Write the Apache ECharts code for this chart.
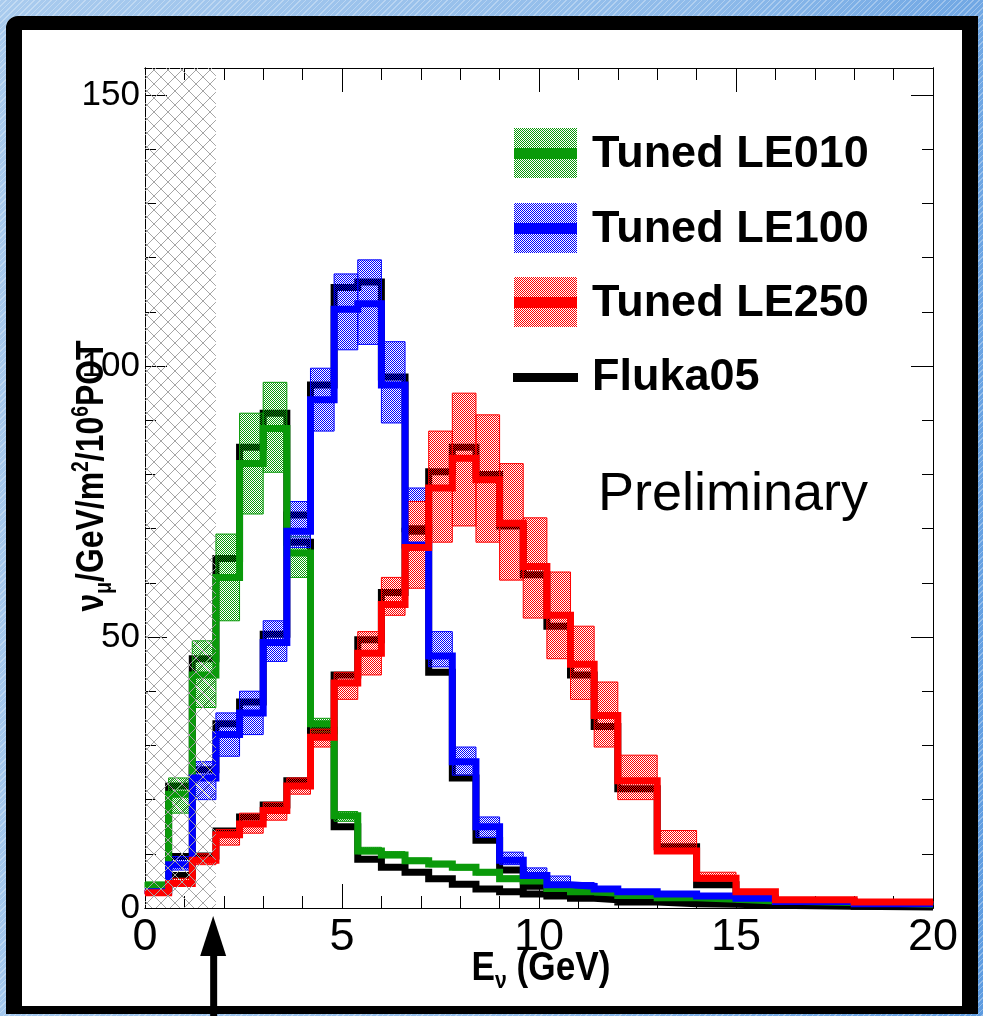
<!DOCTYPE html>
<html>
<head>
<meta charset="utf-8">
<script src="https://cdn.jsdelivr.net/npm/echarts@6/dist/echarts.min.js"></script>
<style>
html, body { margin: 0; padding: 0; }
body {
  width: 983px; height: 1016px; overflow: hidden; position: relative;
  background:
    repeating-linear-gradient(135deg, rgba(255,255,255,0.30) 0 1px, rgba(255,255,255,0) 1px 4px),
    linear-gradient(100deg, #a9cbee 0%, #8fbbea 60%, #5d9be0 100%);
}
#frame {
  position: absolute; left: 6px; top: 16px; width: 940px; height: 976px;
  border-style: solid; border-color: #000; border-width: 14px 16px 8px 16px;
  border-top-left-radius: 12px; background: #fff;
}
#chart { position: absolute; left: 0; top: 0; width: 983px; height: 1016px; }
</style>
</head>
<body>
<div id="frame"></div>
<div id="chart"></div>
<script>
// bin edges in GeV (0.6 GeV bins up to 12, then wider)
const binEdges = [0, 0.6, 1.2, 1.8, 2.4, 3.0, 3.6, 4.2, 4.8, 5.4, 6.0, 6.6, 7.2, 7.8, 8.4, 9.0, 9.6, 10.2, 10.8, 11.4, 12, 13, 14, 15, 16, 18, 20];

// LE010
const le010Tuned = [4.2, 21, 43, 61, 82, 88.5, 65.5, 34, 17, 10.5, 9.8, 8.7, 8.1, 7.5, 6.6, 5.4, 5.0, 3.6, 3.0, 2.7, 2.3, 1.9, 1.6, 1.3, 1.0, 0.7];
const le010Fluka = [3.7, 22.5, 46, 64.5, 85, 91.3, 67.5, 32.8, 15, 9, 7.5, 6.6, 5.4, 4.4, 3.5, 3.0, 2.6, 2.2, 1.8, 1.5, 1.1, 0.8, 0.7, 0.5, 0.3, 0.2];
const le010Low  = [3.6, 17.5, 37, 53, 72.7, 80.4, 61, 32.5, 16, 10, 9.3, 8.2, 7.6, 7.0, 6.1, 5.0, 4.6, 3.3, 2.7, 2.4, 2.0, 1.7, 1.4, 1.1, 0.8, 0.5];
const le010High = [4.8, 24, 49.3, 69, 91.3, 97, 68.5, 35, 17.8, 11.2, 10.4, 9.2, 8.6, 8.0, 7.1, 5.9, 5.4, 3.9, 3.3, 3.0, 2.6, 2.1, 1.8, 1.5, 1.2, 0.9];

// LE100
const le100Tuned = [3.0, 8, 24, 32, 36, 49, 69.5, 93.8, 110.5, 111.5, 96.5, 67, 46.5, 27, 15, 8.8, 6, 4.3, 4.0, 3.5, 3.0, 2.6, 2.2, 1.8, 1.2, 0.8];
const le100Fluka = [3.5, 9.5, 25.5, 34, 38, 50.5, 72.5, 96.5, 114.5, 115.5, 98, 70, 43.5, 24, 12.5, 7, 4, 2.9, 2.5, 2.1, 1.6, 1.3, 1.1, 0.8, 0.5, 0.3];
const le100Low  = [2.6, 7, 20, 28, 32, 45.5, 66.5, 88, 103, 104, 89.5, 66, 44.5, 24.5, 13, 8, 5.5, 4, 3.6, 3.2, 2.7, 2.3, 1.9, 1.5, 1.0, 0.6];
const le100High = [3.4, 9.5, 27, 36, 40, 53, 75, 99.6, 117, 119.6, 104.5, 77.5, 51, 29.7, 16.8, 10.3, 7.4, 5.9, 4.7, 3.9, 3.3, 2.9, 2.5, 2.1, 1.4, 1.0];

// LE250
const le250Tuned = [2.8, 4.5, 8.8, 13.5, 15.5, 18, 22.5, 31.5, 41.5, 47, 56, 66.5, 77.5, 83, 79, 71, 63, 54, 45, 35.5, 23.5, 10.5, 5.5, 3.0, 1.5, 1.1];
const le250Fluka = [3.3, 6, 9.6, 14.2, 16.8, 19, 23.5, 32.7, 43, 49.5, 58.2, 69.5, 80.5, 85, 80, 70.5, 61.5, 52, 43, 33.5, 22, 11.3, 4.3, 1.8, 0.7, 0.3];
const le250Low  = [2.5, 4, 8, 11.6, 13.8, 16.2, 21, 29.7, 38.5, 43, 54, 59, 67.5, 70.5, 67.5, 60.5, 53.5, 46, 38.5, 29.7, 20, 10.5, 5, 2.5, 1.2, 0.9];
const le250High = [3.3, 5.5, 10, 14.5, 17.5, 19.5, 24, 33, 43.5, 51, 61, 75, 88, 95, 91, 82, 72, 62, 52, 41.7, 28.2, 14.3, 6.6, 3.3, 1.8, 1.3];

const seriesNames = ['Tuned LE010', 'Tuned LE100', 'Tuned LE250', 'Fluka05'];
const seriesColors = ['#0a9a0a', '#0000ff', '#ff0000', '#000000'];
const cutEnergy = 1.8;     // hatched region upper edge
const arrowEnergy = 1.73;  // arrow under the axis
const xRange = [0, 20];
const yRange = [0, 155];

const FONT = 'Liberation Sans, Arial, sans-serif';

// dotted fill, transparent between dots so what is under shows through
function dotPattern(color) {
  const c = document.createElement('canvas');
  c.width = 4; c.height = 4;
  const g = c.getContext('2d');
  g.fillStyle = color;
  for (let y = 0; y < 4; y++) {
    for (let x = 0; x < 4; x++) {
      if ((x + y) % 2 === 0) g.fillRect(x, y, 1, 1);
    }
  }
  return { image: c, repeat: 'repeat' };
}

function hatchPattern() {
  const c = document.createElement('canvas');
  c.width = 14; c.height = 14;
  const g = c.getContext('2d');
  g.strokeStyle = '#a5a5a5';
  g.lineWidth = 1;
  g.beginPath();
  g.moveTo(0, 0); g.lineTo(14, 14);
  g.moveTo(0, 14); g.lineTo(14, 0);
  g.stroke();
  return { image: c, repeat: 'repeat' };
}

function stepData(values) {
  const pts = values.map((v, i) => [binEdges[i], v]);
  pts.push([binEdges[binEdges.length - 1], values[values.length - 1]]);
  return pts;
}

function bandSeries(low, high, color) {
  const fill = dotPattern(color);
  return {
    type: 'custom',
    z: 3,
    silent: true,
    renderItem: (params, api) => {
      const p0 = api.coord([api.value(0), api.value(3)]);
      const p1 = api.coord([api.value(1), api.value(2)]);
      return {
        type: 'rect',
        shape: { x: p0[0], y: p0[1], width: p1[0] - p0[0], height: p1[1] - p0[1] },
        style: { fill: fill, stroke: color, lineWidth: 1 }
      };
    },
    encode: { x: [0, 1], y: [2, 3] },
    data: low.map((l, i) => [binEdges[i], binEdges[i + 1], l, high[i]])
  };
}

function histSeries(name, values, color, z, width) {
  return {
    name: name,
    type: 'line',
    step: 'end',
    symbol: 'none',
    z: z,
    silent: true,
    lineStyle: { color: color, width: width, cap: 'butt', join: 'miter' },
    data: stepData(values)
  };
}

const chart = echarts.init(document.getElementById('chart'), null, { renderer: 'canvas' });

function xAx(position, interval, len, showLabel) {
  return {
    type: 'value', position: position, min: xRange[0], max: xRange[1], interval: interval,
    axisLine: { show: true, onZero: false, lineStyle: { color: '#000', width: 1 } },
    axisTick: { show: true, inside: true, length: len, lineStyle: { color: '#000', width: 1 } },
    axisLabel: { show: showLabel, margin: 7, color: '#000', fontFamily: FONT, fontSize: 45 },
    splitLine: { show: false }
  };
}
function yAx(position, interval, len, showLabel) {
  return {
    type: 'value', position: position, min: yRange[0], max: yRange[1], interval: interval,
    axisLine: { show: true, onZero: false, lineStyle: { color: '#000', width: 1 } },
    axisTick: { show: true, inside: true, length: len, lineStyle: { color: '#000', width: 1 } },
    axisLabel: { show: showLabel, margin: 5, showMaxLabel: false, color: '#000', fontFamily: FONT, fontSize: 35 },
    splitLine: { show: false }
  };
}

const bands = [
  [le010Low, le010High], [le100Low, le100High], [le250Low, le250High]
];
const tuned = [le010Tuned, le100Tuned, le250Tuned];
const fluka = [le010Fluka, le100Fluka, le250Fluka];

const series = [];
fluka.forEach((f) => series.push(histSeries(seriesNames[3], f, seriesColors[3], 2, 7)));
bands.forEach((b, i) => series.push(bandSeries(b[0], b[1], seriesColors[i])));
tuned.forEach((t, i) => series.push(histSeries(seriesNames[i], t, seriesColors[i], 4, 7)));

// hatched low-energy region, drawn on top
const hatch = hatchPattern();
series.push({
  type: 'custom',
  z: 6,
  silent: true,
  renderItem: (params, api) => {
    const p0 = api.coord([api.value(0), yRange[1]]);
    const p1 = api.coord([api.value(1), yRange[0]]);
    return {
      type: 'rect',
      shape: { x: p0[0], y: p0[1], width: p1[0] - p0[0], height: p1[1] - p0[1] },
      style: { fill: hatch, stroke: null }
    };
  },
  encode: { x: [0, 1] },
  data: [[0, cutEnergy]]
});

chart.setOption({
  animation: false,
  grid: { left: 145, top: 68, width: 788, height: 840, containLabel: false },
  xAxis: [
    xAx('bottom', 5, 24, true),
    xAx('bottom', 1, 12, false),
    xAx('top', 5, 24, false),
    xAx('top', 1, 12, false)
  ],
  yAxis: [
    yAx('left', 50, 22, true),
    yAx('left', 10, 11, false),
    yAx('right', 50, 22, false),
    yAx('right', 10, 11, false)
  ],
  series: series
});

// legend built from graphic elements
const legendTop = [128, 203, 277];
const graphics = [];
for (let i = 0; i < 3; i++) {
  graphics.push({ type: 'rect', shape: { x: 514, y: legendTop[i], width: 63, height: 50 },
    style: { fill: dotPattern(seriesColors[i]) }, z: 10 });
  graphics.push({ type: 'rect', shape: { x: 514, y: legendTop[i] + 20, width: 63, height: 11 },
    style: { fill: seriesColors[i] }, z: 11 });
  graphics.push({ type: 'text', x: 592, y: legendTop[i] + 27, z: 11,
    style: { text: seriesNames[i], fill: '#000', fontFamily: FONT,
      fontWeight: 'bold', fontSize: 45, verticalAlign: 'middle', align: 'left' } });
}
graphics.push({ type: 'rect', shape: { x: 513, y: 373, width: 65, height: 9 }, style: { fill: '#000' }, z: 11 });
graphics.push({ type: 'text', x: 592, y: 378, z: 11,
  style: { text: seriesNames[3], fill: '#000', fontFamily: FONT,
    fontWeight: 'bold', fontSize: 45, verticalAlign: 'middle', align: 'left' } });

function richStyle(size) {
  return {
    m: { fontSize: size, fontWeight: 'bold', fontFamily: FONT, lineHeight: size + 8, verticalAlign: 'middle', fill: '#000' },
    s: { fontSize: Math.round(size * 0.6), fontWeight: 'bold', fontFamily: FONT, lineHeight: size + 8, verticalAlign: 'bottom', fill: '#000' },
    p: { fontSize: Math.round(size * 0.6), fontWeight: 'bold', fontFamily: FONT, lineHeight: size + 8, verticalAlign: 'top', fill: '#000' }
  };
}

graphics.push(
  { type: 'text', x: 598, y: 495, z: 11,
    style: { text: 'Preliminary', fill: '#000', fontFamily: FONT,
      fontSize: 54, verticalAlign: 'middle', align: 'left' } },
  { type: 'text', x: 93, y: 476, rotation: Math.PI / 2, scaleX: 0.84, z: 11,
    style: { text: '{m|ν}{s|μ}{m|/GeV/m}{p|2}{m|/10}{p|6}{m|POT}', rich: richStyle(38),
      align: 'center', verticalAlign: 'middle' } },
  { type: 'text', x: 541, y: 969, scaleX: 0.88, z: 11,
    style: { text: '{m|E}{s|ν}{m| (GeV)}', rich: richStyle(40), align: 'center', verticalAlign: 'middle' } }
);

// arrow marking the low-energy cut, placed through the x scale
const ax = chart.convertToPixel({ xAxisIndex: 0 }, arrowEnergy);
graphics.push(
  { type: 'rect', shape: { x: ax - 3, y: 950, width: 7, height: 70 }, style: { fill: '#000' }, z: 12 },
  { type: 'polygon', shape: { points: [[ax, 916], [ax - 13, 956], [ax + 13, 956]] }, style: { fill: '#000' }, z: 12 }
);

chart.setOption({ graphic: graphics });
</script>
</body>
</html>
